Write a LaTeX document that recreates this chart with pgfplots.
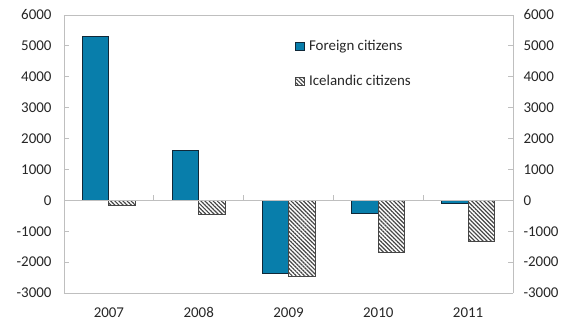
\documentclass[border=0pt]{standalone}
\usepackage{fontspec}
\setmainfont{Carlito}
\usepackage{pgfplots}
\pgfplotsset{compat=1.18}
\usetikzlibrary{patterns.meta}

\definecolor{foreignblue}{RGB}{8,126,171}
\definecolor{baredge}{RGB}{16,40,56}
\definecolor{axisgray}{RGB}{191,191,191}
\definecolor{hatchgray}{RGB}{70,70,70}
\definecolor{labelgray}{RGB}{38,38,38}

% Net migration by citizenship
\pgfplotstableread{
idx year foreign icelandic
0 2007 5300 -180
1 2008 1620 -470
2 2009 -2370 -2480
3 2010 -430 -1690
4 2011 -90 -1320
}\migration

\pgfplotsset{
  common/.style={
    width=449bp, height=278bp, scale only axis,
    ymin=-3000, ymax=6000,
    xmin=-0.5, xmax=4.5,
    ytick={-3000,-2000,...,6000},
    /pgf/number format/assume math mode=true,
    /pgf/number format/1000 sep={},
    tick label style={font=\fontsize{15}{18}\selectfont, text=labelgray},
    axis line style={axisgray, line width=0.8pt},
    major tick style={axisgray, line width=0.8pt},
    major tick length=5bp,
    tick align=inside,
  }
}

\begin{document}
\begin{tikzpicture}
\begin{axis}[
  common,
  axis y line*=left,
  axis x line*=bottom,
  xtick=data,
  xticklabels={2007,2008,2009,2010,2011},
  x tick style={draw=none},
  xticklabel style={yshift=-6bp},
  yticklabel style={xshift=-9bp},
  ybar, bar width=26.5bp,
  legend style={
    at={(0.508,0.923)}, anchor=north west, draw=none, fill=none,
    font=\fontsize{15}{18}\selectfont, text=labelgray,
    row sep=19bp,
  },
  legend cell align=left,
  legend image code/.code={
    \draw[#1, line width=0.6pt] (0bp,-4.25bp) rectangle (8.5bp,4.25bp);
    \path[draw=none, fill=none] (0bp,0bp) -- (11.5bp,0bp);
  },
]
\addplot[fill=foreignblue, draw=baredge, line width=0.9pt,
  bar shift=-13.25bp] table[x=idx, y=foreign] {\migration};
\addlegendentry{Foreign citizens}
\addplot[pattern={Lines[angle=-45, distance=2.9bp, line width=1.2bp]},
  pattern color=hatchgray, draw=hatchgray, line width=0.9pt,
  bar shift=13.25bp] table[x=idx, y=icelandic] {\migration};
\addlegendentry{Icelandic citizens}

% zero line with category separators
\addplot[axisgray, line width=0.8pt, forget plot, sharp plot]
  coordinates {(-0.5,0) (4.5,0)};
\addplot[axisgray, line width=0.8pt, forget plot, ycomb, no marks]
  coordinates {(0.5,160) (1.5,160) (2.5,160) (3.5,160)};
\end{axis}

\begin{axis}[
  common,
  axis y line*=right,
  axis x line*=top,
  xtick=\empty,
  yticklabel style={xshift=7bp},
]
\end{axis}

\pgfresetboundingbox
\path (current axis.south west) ++(-64bp,-31bp) rectangle ++(576bp,324bp);
\end{tikzpicture}
\end{document}
